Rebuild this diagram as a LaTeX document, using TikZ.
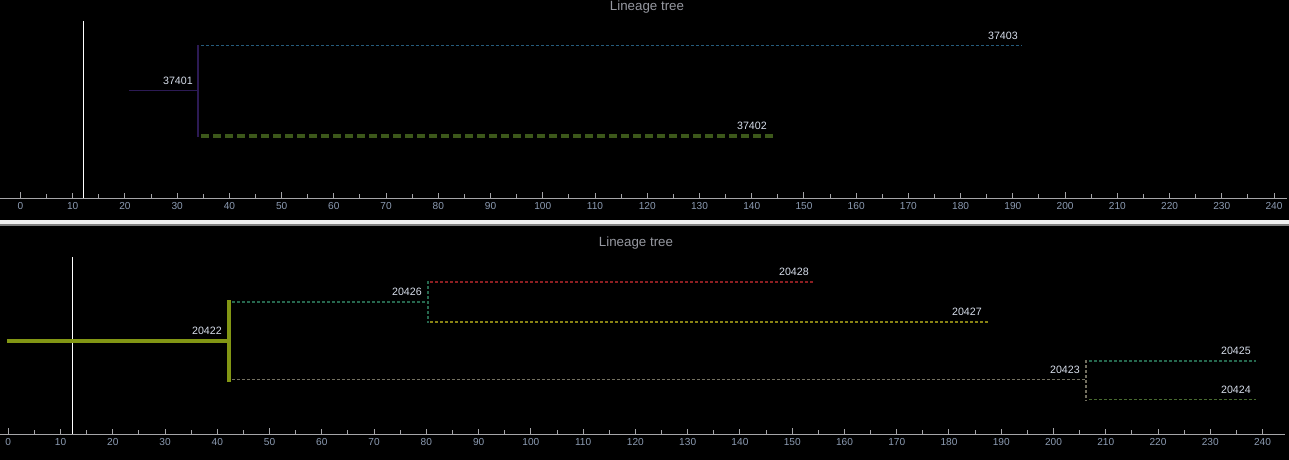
\documentclass[tikz,border=0pt]{standalone}
\usepackage{fontspec}
\setmainfont{Liberation Sans}
\usepackage{xcolor}
\usetikzlibrary{calc}

\definecolor{lblcol}{RGB}{215,222,235}
\definecolor{tickcol}{RGB}{140,155,178}
\definecolor{axiscol}{RGB}{165,165,168}
\definecolor{titlecol}{RGB}{150,152,160}
\definecolor{purpcol}{RGB}{44,26,84}
\definecolor{tealcol}{RGB}{38,92,124}
\definecolor{mosscol}{RGB}{60,88,26}
\definecolor{olivecol}{RGB}{130,150,20}
\definecolor{pinecol}{RGB}{38,104,78}
\definecolor{redcol}{RGB}{140,30,34}
\definecolor{mustcol}{RGB}{136,130,20}
\definecolor{stonecol}{RGB}{115,112,96}
\definecolor{leafcol}{RGB}{72,106,48}

\begin{document}
\begin{tikzpicture}[
    x=0.75pt, y=-0.75pt,
    title/.style={inner sep=0pt, font=\fontsize{10}{12}\selectfont, text=titlecol},
    lbl/.style  ={anchor=east, inner sep=0pt, xshift=-3.75pt, yshift=7.5pt,
                  font=\fontsize{8}{9}\selectfont, text=lblcol},
    ticklbl/.style={inner sep=0pt, font=\fontsize{7.6}{9}\selectfont, text=tickcol},
    axis/.style ={draw=axiscol, line width=0.9pt},
    cursor/.style={draw=white, line width=0.75pt},
    thin/.style ={line width=1pt, dash pattern=on 2.25pt off 1.5pt},
    solid1/.style={line width=1.1pt},
    fat/.style  ={line width=3pt},
    fatdash/.style={line width=3pt, dash pattern=on 6pt off 3pt}
]
% --- frame -------------------------------------------------------------
\fill[black] (0,0) rectangle (1289,460);
\useasboundingbox (0,0) rectangle (1289,460);
\fill[white!88!gray] (0,219.5) rectangle (1289,224);
\draw[gray, line width=0.8pt] (0,225) -- (1289,225);

% --- top panel: axis ---------------------------------------------------
\node[title] (titleA) at (647,7) {Lineage tree};
\coordinate (axA0) at (0,198.3);
\coordinate (axA1) at (1287,198.3);
\draw[axis] (axA0) -- (axA1);
\foreach \v in {0,5,...,240}{
    \pgfmathsetmacro{\h}{mod(\v,50)==0 ? 6 : (mod(\v,10)==0 ? 5 : 4)}
    \draw[axis, line width=0.75pt] ({20.5+5.223*\v},198.3) -- ++(0,-\h);
}
\foreach \v in {0,10,...,240}
    \node[ticklbl] (tA\v) at ({20.5+5.223*\v},206.5) {\v};
\coordinate (curA0) at (83,21);
\coordinate (curA1) at (83,198.3);
\draw[cursor] (curA0) -- (curA1);

% --- top panel: tree ---------------------------------------------------
\coordinate (r37401) at (129,90.7);
\coordinate (f37401) at (198,90.7);
\coordinate (e37403) at (1022,45.7);
\coordinate (e37402) at (773,136);
\draw[purpcol, solid1] (r37401) -- (f37401);
\draw[purpcol, solid1] ($(f37401 |- e37403)+(0,-0.5)$) -- ($(f37401 |- e37402)+(0,1)$);
\draw[tealcol, thin] ($(f37401 |- e37403)+(3,0)$) -- (e37403);
\draw[mosscol, fatdash] ($(f37401 |- e37402)+(3,0)$) -- (e37402);
\node[lbl] (n37401) at (f37401) {37401};
\node[lbl, xshift=0.75pt] (n37403) at (e37403) {37403};
\node[lbl, xshift=-0.75pt] (n37402) at (e37402) {37402};

% --- bottom panel: axis ------------------------------------------------
\node[title] (titleB) at (636,242.7) {Lineage tree};
\coordinate (axB0) at (0,434.3);
\coordinate (axB1) at (1285,434.3);
\draw[axis] (axB0) -- (axB1);
\foreach \v in {0,5,...,240}{
    \pgfmathsetmacro{\h}{mod(\v,50)==0 ? 6 : (mod(\v,10)==0 ? 5 : 4)}
    \draw[axis, line width=0.75pt] ({8.3+5.226*\v},434.3) -- ++(0,-\h);
}
\foreach \v in {0,10,...,240}
    \node[ticklbl] (tB\v) at ({8.3+5.226*\v},442.5) {\v};
\coordinate (curB0) at (72.3,257);
\coordinate (curB1) at (72.3,434.3);
\draw[cursor] (curB0) -- (curB1);

% --- bottom panel: tree ------------------------------------------------
\coordinate (r20422) at (7,340.7);
\coordinate (f20422) at (229,340.7);
\coordinate (f20426) at (428,302);
\coordinate (e20428) at (814,282);
\coordinate (e20427) at (988,322);
\coordinate (f20423) at (1086,379.7);
\coordinate (e20425) at (1256,361);
\coordinate (e20424) at (1256,399.7);
\draw[olivecol, fat] (r20422) -- (f20422);
\draw[olivecol, fat] ($(f20422 |- f20426)+(0,-2)$) -- ($(f20422 |- f20423)+(0,2)$);
\draw[pinecol, thin] ($(f20422 |- f20426)+(3,0)$) -- (f20426);
\draw[pinecol, thin] ($(f20426 |- e20428)+(0,-1)$) -- ($(f20426 |- e20427)+(0,1)$);
\draw[redcol, thin] ($(f20426 |- e20428)+(2,0)$) -- (e20428);
\draw[mustcol, thin] ($(f20426 |- e20427)+(2,0)$) -- (e20427);
\draw[stonecol, thin] ($(f20422 |- f20423)+(3,0)$) -- (f20423);
\draw[stonecol, thin] ($(f20423 |- e20425)+(0,-1)$) -- ($(f20423 |- e20424)+(0,1)$);
\draw[pinecol, thin] ($(f20423 |- e20425)+(3,0)$) -- (e20425);
\draw[leafcol, thin] ($(f20423 |- e20424)+(3,0)$) -- (e20424);
\node[lbl, xshift=-1.5pt] (n20422) at (f20422) {20422};
\node[lbl, xshift=-0.75pt] (n20426) at (f20426) {20426};
\node[lbl] (n20428) at (e20428) {20428};
\node[lbl, xshift=-0.75pt] (n20427) at (e20427) {20427};
\node[lbl, xshift=-0.75pt] (n20423) at (f20423) {20423};
\node[lbl] (n20425) at (e20425) {20425};
\node[lbl] (n20424) at (e20424) {20424};
\end{tikzpicture}
\end{document}
